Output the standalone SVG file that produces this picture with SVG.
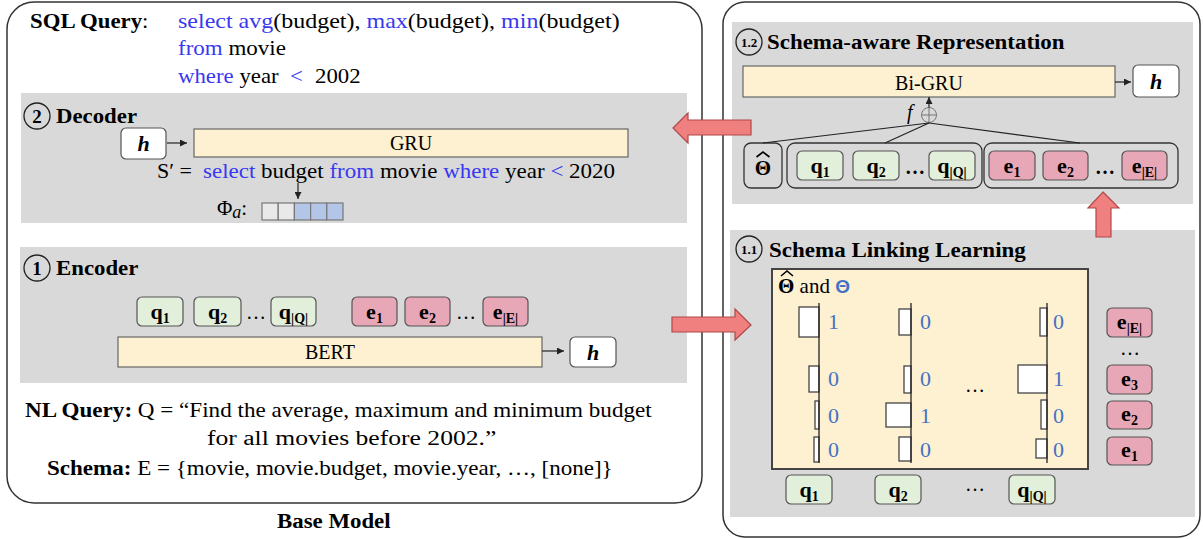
<svg xmlns="http://www.w3.org/2000/svg" width="1203" height="539" viewBox="0 0 1203 539">
<style>
text{font-family:"Liberation Serif","Times New Roman",serif;font-size:20px;fill:#000}
.b{font-weight:bold}
.lb{font-weight:bold;font-size:22px}
.bi{font-weight:bold;font-style:italic;font-size:22px}
.kw{fill:#3838f0}
.n{fill:#4472c4;font-size:22px}
.mid{text-anchor:middle}
.sub{font-size:14px}
.outer{fill:#fff;stroke:#333;stroke-width:1.5}
.band{fill:#d9d9d9}
.yel{fill:#fdf1d2;stroke:#666;stroke-width:1.2}
.q{fill:#e2efda;stroke:#555;stroke-width:1.2}
.e{fill:#e8a7b6;stroke:#555;stroke-width:1.2}
.w{fill:#fff;stroke:#555;stroke-width:1.2}
.grp{fill:none;stroke:#333;stroke-width:1.3}
.bar{fill:#fff;stroke:#444;stroke-width:1.3}
.ax{stroke:#222;stroke-width:1.3}
.ln{stroke:#222;stroke-width:1.2;fill:none}
.big{fill:#f08080;stroke:#b04848;stroke-width:1.2}
.circ{fill:none;stroke:#222;stroke-width:1.3}
.hat{fill:none;stroke:#000;stroke-width:1.6}
</style>
<defs>
<marker id="ah" viewBox="0 0 10 10" refX="10" refY="5" markerWidth="8" markerHeight="7" markerUnits="userSpaceOnUse" orient="auto">
<path d="M0,0 L10,5 L0,10 z" fill="#222"/>
</marker>
</defs>

<!-- outer containers -->
<rect class="outer" x="7" y="2" width="695" height="501" rx="27"/>
<rect class="outer" x="723" y="2" width="477" height="535" rx="22"/>

<!-- bands -->
<rect class="band" x="21" y="93" width="666" height="130"/>
<rect class="band" x="20" y="247" width="667" height="136"/>
<rect class="band" x="732" y="22" width="461" height="182"/>
<rect class="band" x="730" y="230" width="465" height="287"/>

<!-- SQL query -->
<g id="sql">
<text transform="translate(30,28) scale(1.14,1)"><tspan class="b">SQL Query</tspan>:</text>
<text transform="translate(178,28) scale(1.2,1)"><tspan class="kw">select avg</tspan>(budget), <tspan class="kw">max</tspan>(budget), <tspan class="kw">min</tspan>(budget)</text>
<text transform="translate(178,55) scale(1.15,1)"><tspan class="kw">from</tspan> movie</text>
<text transform="translate(178,83) scale(1.14,1)"><tspan class="kw">where</tspan> year</text>
<text transform="translate(290,83) scale(1.14,1)" class="kw">&lt;</text>
<text transform="translate(315,83) scale(1.14,1)">2002</text>
</g>

<!-- Decoder -->
<g id="decoder">
<circle class="circ" cx="37" cy="116" r="13"/>
<text x="37" y="123" class="b mid" style="font-size:19px">2</text>
<text class="b" transform="translate(56,123) scale(1.14,1)">Decoder</text>
<rect class="w" x="121" y="128" width="45" height="31" rx="5"/>
<text x="143.5" y="151" class="bi mid">h</text>
<rect class="yel" x="194" y="129" width="434" height="28"/>
<text x="411" y="150" class="mid">GRU</text>
<text transform="translate(157,178) scale(1.1,1)">S′ =</text>
<text transform="translate(203,178) scale(1.15,1)"><tspan class="kw">select</tspan> budget <tspan class="kw">from</tspan> movie <tspan class="kw">where</tspan> year <tspan class="kw">&lt;</tspan> 2020</text>
<text x="217" y="215" style="font-size:21px">Φ<tspan style="font-style:italic;font-size:18px" dy="3">a</tspan><tspan dy="-3">:</tspan></text>
<g stroke="#777" stroke-width="1.2">
<rect x="262" y="203" width="16.2" height="17" fill="#e9e9e9"/>
<rect x="278.2" y="203" width="16.2" height="17" fill="#e9e9e9"/>
<rect x="294.4" y="203" width="16.2" height="17" fill="#b4c6e7"/>
<rect x="310.6" y="203" width="16.2" height="17" fill="#b4c6e7"/>
<rect x="326.8" y="203" width="16.2" height="17" fill="#b4c6e7"/>
</g>
</g>

<!-- Encoder -->
<g id="encoder">
<circle class="circ" cx="37" cy="268" r="13"/>
<text x="37" y="275" class="b mid" style="font-size:19px">1</text>
<text class="b" transform="translate(56,275) scale(1.14,1)">Encoder</text>
<rect class="q" x="137" y="297" width="46" height="29" rx="5"/>
<text x="160" y="319" class="lb mid">q<tspan class="sub" dy="4">1</tspan></text>
<rect class="q" x="194" y="297" width="47" height="29" rx="5"/>
<text x="217.5" y="319" class="lb mid">q<tspan class="sub" dy="4">2</tspan></text>
<text x="256" y="319" class="mid">…</text>
<rect class="q" x="271" y="297" width="45" height="29" rx="5"/>
<text x="293.5" y="319" class="lb mid">q<tspan class="sub" dy="4">|Q|</tspan></text>
<rect class="e" x="352" y="297" width="45" height="29" rx="5"/>
<text x="374.5" y="319" class="lb mid">e<tspan class="sub" dy="4">1</tspan></text>
<rect class="e" x="405" y="297" width="45" height="29" rx="5"/>
<text x="427.5" y="319" class="lb mid">e<tspan class="sub" dy="4">2</tspan></text>
<text x="466" y="319" class="mid">…</text>
<rect class="e" x="483" y="297" width="45" height="29" rx="5"/>
<text x="505.5" y="319" class="lb mid">e<tspan class="sub" dy="4">|E|</tspan></text>
<rect class="yel" x="118" y="337" width="424" height="30"/>
<text x="330" y="359" class="mid">BERT</text>
<rect class="w" x="570" y="337" width="46" height="30" rx="5"/>
<text x="593" y="360" class="bi mid">h</text>
</g>

<!-- NL query and schema -->
<g id="inputs">
<text transform="translate(25,417) scale(1.155,1)"><tspan class="b">NL Query:</tspan> Q = “Find the average, maximum and minimum budget</text>
<text transform="translate(207,445) scale(1.28,1)">for all movies before 2002.”</text>
<text transform="translate(47,475) scale(1.152,1)"><tspan class="b">Schema:</tspan> E = {movie, movie.budget, movie.year, …, [none]}</text>
<text class="b" transform="translate(277,528) scale(1.143,1)">Base Model</text>
</g>

<!-- 1.2 Schema-aware Representation -->
<g id="schema-aware">
<circle class="circ" cx="749" cy="42" r="13"/>
<text x="749" y="47" class="b mid" style="font-size:13px">1.2</text>
<text class="b" transform="translate(767,49) scale(1.146,1)">Schema-aware Representation</text>
<rect class="yel" x="743" y="66" width="372" height="31"/>
<text x="929" y="90" class="mid">Bi-GRU</text>
<rect class="w" x="1133" y="65" width="46" height="32" rx="5"/>
<text x="1156" y="89" class="bi mid">h</text>
<circle cx="929" cy="115" r="7.5" fill="none" stroke="#777" stroke-width="1"/>
<line x1="921.5" y1="115" x2="936.5" y2="115" stroke="#777" stroke-width="1"/>
<line x1="929" y1="107.5" x2="929" y2="122.5" stroke="#777" stroke-width="1"/>
<text x="907" y="119" style="font-style:italic">f</text>
<rect class="grp" x="744" y="143" width="38" height="45" rx="7"/>
<text x="763" y="175" class="b mid" style="font-size:21px">Θ</text>
<polyline class="hat" points="756.5,157 763,152 769.5,157"/>
<rect class="grp" x="787" y="143" width="195" height="45" rx="8"/>
<rect class="q" x="797" y="151" width="46" height="29" rx="5"/>
<text x="820" y="173" class="lb mid">q<tspan class="sub" dy="4">1</tspan></text>
<rect class="q" x="853" y="151" width="46" height="29" rx="5"/>
<text x="876" y="173" class="lb mid">q<tspan class="sub" dy="4">2</tspan></text>
<text x="915" y="174" class="b mid">…</text>
<rect class="q" x="929" y="151" width="46" height="29" rx="5"/>
<text x="952" y="173" class="lb mid">q<tspan class="sub" dy="4">|Q|</tspan></text>
<rect class="grp" x="984" y="143" width="194" height="45" rx="8"/>
<rect class="e" x="989" y="151" width="46" height="29" rx="5"/>
<text x="1012" y="173" class="lb mid">e<tspan class="sub" dy="4">1</tspan></text>
<rect class="e" x="1043" y="151" width="45" height="29" rx="5"/>
<text x="1065.5" y="173" class="lb mid">e<tspan class="sub" dy="4">2</tspan></text>
<text x="1105" y="174" class="b mid">…</text>
<rect class="e" x="1122" y="151" width="45" height="29" rx="5"/>
<text x="1144.5" y="173" class="lb mid">e<tspan class="sub" dy="4">|E|</tspan></text>
</g>

<!-- 1.1 Schema Linking Learning -->
<g id="schema-linking">
<circle class="circ" cx="749" cy="249" r="13"/>
<text x="749" y="254" class="b mid" style="font-size:13px">1.1</text>
<text class="b" transform="translate(769,257) scale(1.15,1)">Schema Linking Learning</text>
<rect x="772" y="269" width="316" height="200" fill="#fdf1d2" stroke="#444" stroke-width="2"/>
<text x="778" y="293" style="font-size:21px"><tspan class="b">Θ</tspan> and <tspan class="b" style="fill:#4472c4;font-family:'Liberation Sans',sans-serif;font-size:19px">Θ</tspan></text>
<polyline class="hat" points="781,276 787,271 793,276"/>
<rect class="bar" x="799" y="307" width="20" height="30"/>
<rect class="bar" x="809" y="366" width="10" height="26"/>
<rect class="bar" x="815" y="401" width="4" height="28"/>
<rect class="bar" x="814" y="437" width="5" height="25"/>
<rect class="bar" x="899" y="309" width="12" height="26"/>
<rect class="bar" x="904" y="366" width="7" height="27"/>
<rect class="bar" x="886" y="403" width="25" height="24"/>
<rect class="bar" x="899" y="437" width="12" height="24"/>
<rect class="bar" x="1040" y="308" width="7" height="28"/>
<rect class="bar" x="1018" y="365" width="29" height="28"/>
<rect class="bar" x="1041" y="400" width="6" height="29"/>
<rect class="bar" x="1036" y="439" width="11" height="19"/>
<line class="ax" x1="819" y1="303" x2="819" y2="463"/>
<line class="ax" x1="911" y1="303" x2="911" y2="463"/>
<line class="ax" x1="1047" y1="303" x2="1047" y2="463"/>
<text class="n" x="828" y="329">1</text>
<text class="n" x="828" y="386">0</text>
<text class="n" x="828" y="423">0</text>
<text class="n" x="828" y="457">0</text>
<text class="n" x="920" y="329">0</text>
<text class="n" x="920" y="386">0</text>
<text class="n" x="920" y="423">1</text>
<text class="n" x="920" y="457">0</text>
<text class="n" x="1053" y="329">0</text>
<text class="n" x="1053" y="386">1</text>
<text class="n" x="1053" y="423">0</text>
<text class="n" x="1053" y="457">0</text>
<text x="975" y="392" class="mid">…</text>
<rect class="e" x="1107" y="308" width="45" height="29" rx="5"/>
<text x="1129.5" y="329" class="lb mid">e<tspan class="sub" dy="4">|E|</tspan></text>
<text x="1130" y="355" class="mid">…</text>
<rect class="e" x="1107" y="365" width="45" height="29" rx="5"/>
<text x="1129.5" y="386" class="lb mid">e<tspan class="sub" dy="4">3</tspan></text>
<rect class="e" x="1107" y="401" width="45" height="28" rx="5"/>
<text x="1129.5" y="421" class="lb mid">e<tspan class="sub" dy="4">2</tspan></text>
<rect class="e" x="1107" y="437" width="45" height="28" rx="5"/>
<text x="1129.5" y="457" class="lb mid">e<tspan class="sub" dy="4">1</tspan></text>
<rect class="q" x="786" y="475" width="46" height="29" rx="5"/>
<text x="809" y="497" class="lb mid">q<tspan class="sub" dy="4">1</tspan></text>
<rect class="q" x="875" y="475" width="46" height="29" rx="5"/>
<text x="898" y="497" class="lb mid">q<tspan class="sub" dy="4">2</tspan></text>
<text x="975" y="491" class="mid">…</text>
<rect class="q" x="1009" y="475" width="46" height="29" rx="5"/>
<text x="1032" y="497" class="lb mid">q<tspan class="sub" dy="4">|Q|</tspan></text>
</g>

<!-- connectors -->
<g id="connectors">
<line class="ln" x1="167" y1="143" x2="187" y2="143" marker-end="url(#ah)"/>
<line class="ln" x1="298" y1="183" x2="298" y2="199" marker-end="url(#ah)"/>
<line class="ln" x1="542" y1="351" x2="564" y2="351" marker-end="url(#ah)"/>
<line class="ln" x1="1115" y1="82" x2="1131" y2="82" marker-end="url(#ah)"/>
<line class="ln" x1="929" y1="107.5" x2="929" y2="97" marker-end="url(#ah)"/>
<line class="ln" x1="929" y1="123" x2="763" y2="143"/>
<line class="ln" x1="929" y1="123" x2="885" y2="143"/>
<line class="ln" x1="929" y1="123" x2="1080" y2="143"/>
<polygon class="big" points="673,128 688,113 688,120 751,120 751,135 688,135 688,143"/>
<polygon class="big" points="751,325 735,309 735,317 672,317 672,332 735,332 735,340"/>
<polygon class="big" points="1103,192 1119,208 1111,208 1111,237 1096,237 1096,208 1088,208"/>
</g>
</svg>
